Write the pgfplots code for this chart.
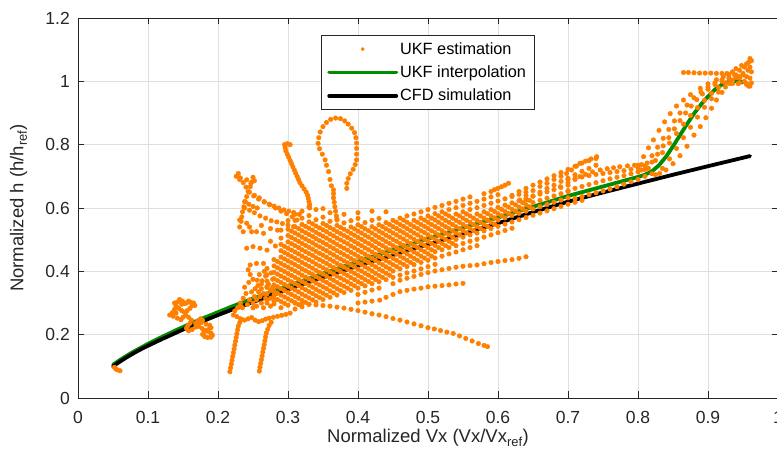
\documentclass[border=0pt]{standalone}
\usepackage{pgfplots}
\usepackage{pgfplotstable}
\pgfplotsset{compat=1.18}
\usepackage{fontspec}
\setmainfont{Liberation Sans}
\definecolor{ukforange}{RGB}{255,128,0}
\definecolor{ukfgreen}{RGB}{0,140,0}
\definecolor{gridgray}{RGB}{223,223,223}
\definecolor{axisgray}{RGB}{38,38,38}
\pgfplotsset{odot/.style={only marks, mark=*, mark size=2.3pt, color=ukforange, mark options={draw=none, fill=ukforange}}}

\pgfplotstableread[header=false]{
0.27 .309 .329 .349 .369 .389 .409 nan nan nan nan nan nan nan nan nan
0.28 .297 .317 .337 .357 .377 .397 .417 .437 nan nan nan nan nan nan nan
0.29 .285 .305 .325 .345 .365 .385 .405 .425 .445 .465 .485 .505 nan nan nan
0.30 .293 .313 .333 .353 .373 .393 .413 .433 .453 .473 .493 .513 .533 nan nan
0.31 .281 .301 .321 .341 .361 .381 .401 .421 .441 .461 .481 .501 .521 .541 .561
0.32 .288 .308 .328 .348 .368 .388 .408 .428 .448 .468 .488 .508 .528 .548 .568
0.33 .296 .316 .336 .356 .376 .396 .416 .436 .456 .476 .496 .516 .536 .556 .576
0.34 .303 .323 .343 .363 .383 .403 .423 .443 .463 .483 .503 .523 .543 .563 nan
0.35 .311 .331 .351 .371 .391 .411 .431 .451 .471 .491 .511 .531 .551 .571 nan
0.36 .318 .338 .358 .378 .398 .418 .438 .458 .478 .498 .518 .538 .558 nan nan
0.37 .325 .345 .365 .385 .405 .425 .445 .465 .485 .505 .525 .545 .565 nan nan
0.38 .333 .353 .373 .393 .413 .433 .453 .473 .493 .513 .533 .553 nan nan nan
0.39 .340 .360 .380 .400 .420 .440 .460 .480 .500 .520 .540 .560 nan nan nan
0.40 .327 .347 .367 .387 .407 .427 .447 .467 .487 .507 .527 .547 .567 nan nan
0.41 .334 .354 .374 .394 .414 .434 .454 .474 .494 .514 .534 .554 nan nan nan
0.42 .341 .361 .381 .401 .421 .441 .461 .481 .501 .521 .541 .561 nan nan nan
0.43 .347 .367 .387 .407 .427 .447 .467 .487 .507 .527 .547 .567 nan nan nan
0.44 .374 .394 .414 .434 .454 .474 .494 .514 .534 .554 nan nan nan nan nan
0.45 .361 .381 .401 .421 .441 .461 .481 .501 .521 .541 .561 nan nan nan nan
0.46 .388 .408 .428 .448 .468 .488 .508 .528 .548 .568 nan nan nan nan nan
0.47 .395 .415 .435 .455 .475 .495 .515 .535 .555 .575 nan nan nan nan nan
0.48 .401 .421 .441 .461 .481 .501 .521 .541 .561 .581 nan nan nan nan nan
0.49 .408 .428 .448 .468 .488 .508 .528 .548 .568 .588 nan nan nan nan nan
0.50 .415 .435 .455 .475 .495 .515 .535 .555 .575 .595 nan nan nan nan nan
0.51 .422 .442 .462 .482 .502 .522 .542 .562 .582 .602 nan nan nan nan nan
0.52 .448 .468 .488 .508 .528 .548 .568 .588 .608 nan nan nan nan nan nan
0.53 .455 .475 .495 .515 .535 .555 .575 .595 .615 nan nan nan nan nan nan
0.54 .461 .481 .501 .521 .541 .561 .581 .601 .621 nan nan nan nan nan nan
0.55 .468 .488 .508 .528 .548 .568 .588 .608 .628 nan nan nan nan nan nan
0.56 .475 .495 .515 .535 .555 .575 .595 .615 .635 nan nan nan nan nan nan
0.57 .481 .501 .521 .541 .561 .581 .601 .621 nan nan nan nan nan nan nan
0.58 .508 .528 .548 .568 .588 .608 .628 nan nan nan nan nan nan nan nan
0.59 .515 .535 .555 .575 .595 .615 .635 nan nan nan nan nan nan nan nan
0.60 .522 .542 .562 .582 .602 .622 .642 nan nan nan nan nan nan nan nan
0.61 .529 .549 .569 .589 .609 .629 nan nan nan nan nan nan nan nan nan
0.62 .536 .556 .576 .596 .616 .636 nan nan nan nan nan nan nan nan nan
0.63 .563 .583 .603 .623 .643 nan nan nan nan nan nan nan nan nan nan
0.64 .570 .590 .610 .630 .650 nan nan nan nan nan nan nan nan nan nan
0.65 .577 .597 .617 .637 nan nan nan nan nan nan nan nan nan nan nan
0.66 .584 .604 .624 .644 nan nan nan nan nan nan nan nan nan nan nan
0.67 .591 .611 .631 .651 nan nan nan nan nan nan nan nan nan nan nan
0.68 .618 .638 .658 nan nan nan nan nan nan nan nan nan nan nan nan
0.69 .625 .645 .665 nan nan nan nan nan nan nan nan nan nan nan nan
0.70 .632 .652 .672 nan nan nan nan nan nan nan nan nan nan nan nan
}\denseA

\pgfplotstableread[header=false]{
0.285 .311 .331 .351 .371 .391 .411 .431 nan nan nan nan nan nan
0.295 .299 .319 .339 .359 .379 .399 .419 .439 .459 .479 nan nan nan
0.305 .307 .327 .347 .367 .387 .407 .427 .447 .467 .487 .507 .527 nan
0.315 .295 .315 .335 .355 .375 .395 .415 .435 .455 .475 .495 .515 .535
0.325 .302 .322 .342 .362 .382 .402 .422 .442 .462 .482 .502 .522 .542
0.335 .310 .330 .350 .370 .390 .410 .430 .450 .470 .490 .510 .530 .550
0.345 .317 .337 .357 .377 .397 .417 .437 .457 .477 .497 .517 .537 nan
0.355 .325 .345 .365 .385 .405 .425 .445 .465 .485 .505 .525 .545 nan
0.365 .332 .352 .372 .392 .412 .432 .452 .472 .492 .512 .532 nan nan
0.375 .339 .359 .379 .399 .419 .439 .459 .479 .499 .519 .539 nan nan
0.385 .347 .367 .387 .407 .427 .447 .467 .487 .507 .527 nan nan nan
0.395 .354 .374 .394 .414 .434 .454 .474 .494 .514 .534 nan nan nan
0.405 .361 .381 .401 .421 .441 .461 .481 .501 .521 .541 nan nan nan
0.415 .368 .388 .408 .428 .448 .468 .488 .508 .528 nan nan nan nan
0.425 .374 .394 .414 .434 .454 .474 .494 .514 .534 nan nan nan nan
0.435 .381 .401 .421 .441 .461 .481 .501 .521 .541 nan nan nan nan
0.445 .388 .408 .428 .448 .468 .488 .508 .528 .548 nan nan nan nan
0.455 .415 .435 .455 .475 .495 .515 .535 .555 nan nan nan nan nan
0.465 .422 .442 .462 .482 .502 .522 .542 .562 nan nan nan nan nan
0.475 .428 .448 .468 .488 .508 .528 .548 nan nan nan nan nan nan
0.485 .435 .455 .475 .495 .515 .535 .555 nan nan nan nan nan nan
0.495 .442 .462 .482 .502 .522 .542 .562 nan nan nan nan nan nan
0.505 .448 .468 .488 .508 .528 .548 .568 nan nan nan nan nan nan
0.515 .475 .495 .515 .535 .555 .575 nan nan nan nan nan nan nan
0.525 .481 .501 .521 .541 .561 .581 nan nan nan nan nan nan nan
0.535 .488 .508 .528 .548 .568 nan nan nan nan nan nan nan nan
0.545 .515 .535 .555 .575 nan nan nan nan nan nan nan nan nan
0.555 .521 .541 .561 .581 nan nan nan nan nan nan nan nan nan
0.565 .528 .548 .568 nan nan nan nan nan nan nan nan nan nan
0.575 .535 .555 .575 nan nan nan nan nan nan nan nan nan nan
0.585 .542 .562 .582 nan nan nan nan nan nan nan nan nan nan
0.595 .549 .569 .589 nan nan nan nan nan nan nan nan nan nan
0.605 .576 .596 nan nan nan nan nan nan nan nan nan nan nan
0.615 .583 .603 nan nan nan nan nan nan nan nan nan nan nan
0.625 .590 .610 nan nan nan nan nan nan nan nan nan nan nan
0.635 .597 .617 nan nan nan nan nan nan nan nan nan nan nan
0.645 .604 .624 nan nan nan nan nan nan nan nan nan nan nan
}\denseB

\begin{document}
\begin{tikzpicture}
\begin{axis}[
  scale only axis, width=700pt, height=380pt,
  xmin=0, xmax=1, ymin=0, ymax=1.2,
  xtick={0,0.1,0.2,0.3,0.4,0.5,0.6,0.7,0.8,0.9,1},
  xticklabels={0,0.1,0.2,0.3,0.4,0.5,0.6,0.7,0.8,0.9,1},
  ytick={0,0.2,0.4,0.6,0.8,1,1.2},
  yticklabels={0,0.2,0.4,0.6,0.8,1,1.2},
  /pgf/number format/assume math mode=true,
  grid=major,
  major grid style={draw=gridgray, line width=0.8pt},
  axis line style={draw=axisgray, line width=0.8pt},
  tick style={draw=axisgray, line width=0.8pt},
  tick align=inside, major tick length=6.5pt,
  ticklabel style={font=\fontsize{17.5}{20}\selectfont, text=axisgray},
  xticklabel style={anchor=base, yshift=-25.5pt, inner sep=0pt},
  yticklabel style={anchor=east, xshift=-8pt, inner sep=0pt},
  xlabel={Normalized Vx (Vx/Vx\textsubscript{ref})},
  ylabel={Normalized h (h/h\textsubscript{ref})},
  label style={font=\fontsize{18.5}{21}\selectfont, text=axisgray},
  x label style={at={([yshift=-45pt]axis description cs:0.5,0)}, anchor=base, inner sep=0pt},
  y label style={at={([xshift=-54.5pt]axis description cs:0,0.5)}, rotate=0, anchor=base, inner sep=0pt},
  legend cell align=left,
  legend style={at={(axis description cs:0.347,0.955)}, anchor=north west,
    draw=axisgray, line width=0.8pt, fill=white,
    font=\fontsize{16.3}{19}\selectfont, text=black,
    inner xsep=6pt, inner ysep=5pt, row sep=6pt},
  legend image code/.code={\draw[mark repeat=2,mark phase=2,mark size=1.4pt,#1] plot coordinates {(0pt,0pt) (33.5pt,0pt) (67pt,0pt)};},
]
\addplot[odot] coordinates {
(0.052,0.097)(0.056,0.089)(0.060,0.086)(0.054,0.092)
(0.131,0.262)(0.135,0.270)(0.138,0.280)(0.140,0.291)(0.142,0.303)(0.145,0.311)(0.149,0.306)(0.152,0.298)(0.155,0.300)(0.158,0.306)(0.161,0.302)(0.163,0.292)(0.160,0.283)(0.156,0.276)(0.152,0.271)(0.148,0.276)(0.144,0.283)(0.140,0.268)(0.136,0.258)(0.142,0.252)(0.147,0.247)(0.150,0.255)(0.154,0.262)(0.158,0.255)(0.162,0.246)(0.160,0.236)(0.157,0.228)(0.155,0.220)(0.158,0.212)(0.163,0.216)(0.168,0.224)(0.172,0.232)(0.176,0.238)(0.178,0.245)(0.175,0.250)(0.171,0.242)(0.168,0.236)(0.172,0.226)(0.177,0.220)(0.181,0.214)(0.186,0.210)(0.190,0.205)(0.192,0.198)(0.190,0.192)(0.185,0.191)(0.181,0.194)(0.178,0.201)(0.180,0.208)(0.186,0.216)(0.190,0.222)(0.188,0.230)(0.183,0.233)(0.165,0.300)(0.167,0.292)(0.148,0.296)(0.138,0.300)
(0.217,0.083)(0.218,0.095)(0.219,0.107)(0.220,0.119)(0.221,0.131)(0.222,0.143)(0.223,0.155)(0.224,0.167)(0.225,0.179)(0.226,0.191)(0.227,0.203)(0.228,0.215)(0.229,0.227)(0.231,0.238)(0.234,0.248)
(0.259,0.085)(0.260,0.097)(0.261,0.109)(0.262,0.121)(0.263,0.133)(0.264,0.145)(0.265,0.157)(0.266,0.169)(0.267,0.181)(0.268,0.193)(0.269,0.205)(0.271,0.217)(0.273,0.229)(0.276,0.239)
(0.222,0.262)(0.227,0.257)(0.232,0.250)(0.238,0.246)(0.243,0.250)(0.248,0.254)(0.253,0.246)(0.258,0.241)(0.263,0.244)(0.268,0.249)(0.273,0.252)(0.279,0.255)(0.285,0.258)(0.291,0.261)(0.297,0.264)(0.303,0.268)(0.224,0.275)(0.228,0.285)(0.232,0.292)
(0.250,0.300)(0.255,0.310)(0.260,0.320)(0.258,0.335)(0.262,0.345)(0.265,0.330)(0.268,0.315)(0.270,0.300)(0.262,0.300)(0.255,0.290)(0.252,0.320)(0.257,0.355)(0.263,0.370)(0.268,0.385)(0.272,0.360)(0.275,0.340)(0.275,0.315)(0.248,0.335)(0.253,0.345)(0.245,0.310)(0.242,0.295)(0.250,0.285)(0.265,0.285)(0.275,0.290)(0.280,0.305)(0.280,0.325)(0.278,0.350)(0.278,0.375)(0.276,0.395)(0.266,0.400)(0.259,0.390)(0.232,0.300)(0.236,0.315)(0.240,0.330)(0.238,0.350)(0.244,0.365)(0.235,0.285)(0.243,0.405)(0.246,0.390)(0.250,0.375)(0.256,0.372)(0.270,0.352)(0.262,0.360)
(0.229,0.709)(0.232,0.695)(0.236,0.680)(0.240,0.666)(0.245,0.650)(0.251,0.638)(0.258,0.628)(0.266,0.619)(0.274,0.610)(0.282,0.600)(0.290,0.590)(0.298,0.582)(0.306,0.572)(0.313,0.562)
(0.250,0.697)(0.248,0.682)(0.246,0.667)(0.243,0.652)(0.241,0.636)(0.239,0.620)(0.237,0.604)(0.235,0.588)(0.234,0.572)(0.233,0.558)
(0.238,0.600)(0.245,0.593)(0.252,0.585)(0.260,0.575)(0.268,0.568)(0.276,0.560)(0.284,0.556)(0.292,0.551)(0.300,0.546)(0.308,0.541)
(0.252,0.640)(0.259,0.632)(0.266,0.620)(0.273,0.612)(0.280,0.606)(0.287,0.600)(0.294,0.594)(0.301,0.590)(0.308,0.586)(0.316,0.580)
(0.238,0.620)(0.244,0.612)(0.250,0.605)(0.256,0.600)
(0.226,0.700)(0.231,0.690)(0.241,0.689)(0.247,0.678)(0.252,0.686)
(0.231,0.562)(0.241,0.552)(0.236,0.525)(0.248,0.525)(0.255,0.525)(0.265,0.520)(0.241,0.473)(0.250,0.478)(0.260,0.473)(0.270,0.467)(0.246,0.420)(0.255,0.425)(0.265,0.425)(0.231,0.540)(0.245,0.540)(0.262,0.545)(0.275,0.535)(0.285,0.530)(0.275,0.495)(0.282,0.480)
(0.295,0.800)(0.299,0.803)(0.303,0.800)(0.296,0.790)(0.297,0.780)(0.299,0.770)(0.301,0.760)(0.303,0.750)(0.305,0.740)(0.307,0.730)(0.309,0.720)(0.311,0.710)(0.313,0.700)(0.315,0.690)(0.317,0.680)(0.320,0.670)(0.323,0.660)(0.326,0.650)(0.328,0.640)(0.329,0.630)(0.330,0.620)(0.331,0.610)(0.331,0.600)
(0.370,0.562)(0.369,0.575)(0.368,0.590)(0.367,0.604)(0.366,0.618)(0.365,0.632)(0.365,0.645)(0.365,0.657)(0.362,0.670)(0.360,0.690)(0.358,0.715)(0.355,0.735)(0.353,0.752)(0.349,0.770)(0.345,0.787)(0.343,0.804)(0.344,0.822)(0.346,0.840)(0.350,0.857)(0.355,0.870)(0.361,0.880)(0.368,0.884)(0.375,0.882)(0.381,0.875)(0.386,0.865)(0.391,0.852)(0.395,0.838)(0.397,0.822)(0.398,0.805)(0.398,0.788)(0.398,0.770)(0.398,0.752)(0.396,0.737)(0.393,0.722)(0.389,0.708)(0.386,0.693)(0.384,0.678)(0.384,0.662)
(0.31,0.300)(0.32,0.298)(0.33,0.296)(0.34,0.294)(0.35,0.292)(0.36,0.290)(0.37,0.287)(0.38,0.284)(0.39,0.280)(0.40,0.276)(0.41,0.271)(0.42,0.266)(0.43,0.262)(0.44,0.257)(0.45,0.251)(0.46,0.246)(0.47,0.240)(0.48,0.234)(0.49,0.228)(0.50,0.222)(0.509,0.218)(0.518,0.213)(0.527,0.208)(0.536,0.204)(0.545,0.196)(0.554,0.188)(0.563,0.180)(0.572,0.172)(0.580,0.166)(0.585,0.162)
(0.40,0.300)(0.41,0.303)(0.42,0.306)(0.431,0.309)(0.44,0.318)(0.45,0.327)(0.46,0.336)(0.47,0.340)(0.48,0.344)(0.49,0.347)(0.50,0.351)(0.51,0.353)(0.52,0.355)(0.53,0.357)(0.54,0.360)(0.55,0.362)
(0.46,0.372)(0.47,0.378)(0.48,0.384)(0.49,0.390)(0.50,0.396)(0.51,0.401)(0.52,0.405)(0.53,0.409)(0.54,0.413)(0.55,0.416)(0.56,0.418)(0.57,0.420)(0.58,0.424)(0.59,0.428)(0.60,0.431)(0.61,0.434)(0.62,0.437)(0.63,0.441)(0.64,0.446)
(0.32,0.590)(0.34,0.595)(0.36,0.585)(0.38,0.580)(0.40,0.585)(0.42,0.590)(0.44,0.588)(0.33,0.603)(0.35,0.598)(0.31,0.580)(0.30,0.560)(0.29,0.530)
(0.58,0.645)(0.59,0.652)(0.595,0.658)(0.60,0.662)(0.605,0.667)(0.61,0.672)(0.615,0.678)
(0.631,0.625)(0.64,0.640)(0.65,0.655)(0.66,0.668)(0.67,0.678)(0.68,0.690)(0.69,0.700)(0.698,0.709)(0.705,0.720)(0.712,0.732)(0.717,0.741)(0.725,0.748)(0.733,0.755)(0.741,0.762)
(0.64,0.625)(0.65,0.638)(0.66,0.650)(0.67,0.662)(0.68,0.672)(0.69,0.684)(0.70,0.694)(0.71,0.705)(0.72,0.716)(0.73,0.725)(0.74,0.735)
(0.62,0.640)(0.63,0.652)(0.64,0.662)(0.65,0.672)(0.66,0.682)(0.67,0.692)(0.68,0.702)(0.69,0.712)(0.70,0.722)(0.71,0.732)(0.72,0.742)(0.73,0.750)(0.74,0.756)
(0.689,0.667)(0.70,0.680)(0.71,0.690)(0.717,0.699)(0.725,0.706)(0.735,0.714)(0.746,0.720)(0.756,0.724)(0.765,0.727)(0.774,0.730)(0.785,0.733)(0.795,0.735)(0.805,0.737)
(0.70,0.655)(0.71,0.662)(0.72,0.668)(0.73,0.674)(0.74,0.680)(0.75,0.686)(0.76,0.692)(0.77,0.697)(0.78,0.702)(0.79,0.708)(0.80,0.714)(0.81,0.722)
(0.71,0.630)(0.72,0.636)(0.73,0.642)(0.74,0.648)(0.75,0.654)(0.76,0.660)(0.77,0.667)(0.78,0.675)(0.79,0.683)(0.80,0.690)(0.81,0.700)(0.82,0.708)
(0.70,0.690)(0.71,0.694)(0.72,0.698)(0.73,0.702)(0.74,0.706)(0.75,0.709)(0.76,0.712)(0.77,0.715)(0.78,0.718)(0.79,0.722)(0.80,0.727)(0.81,0.733)
(0.68,0.598)(0.69,0.605)(0.70,0.612)(0.71,0.618)(0.72,0.624)
(0.800,0.735)(0.808,0.762)(0.815,0.790)(0.822,0.815)(0.830,0.845)(0.838,0.872)(0.846,0.898)(0.855,0.922)(0.865,0.941)(0.875,0.958)(0.889,0.978)(0.900,0.992)(0.912,1.005)(0.922,1.015)(0.930,1.022)
(0.805,0.720)(0.813,0.742)(0.820,0.765)(0.828,0.792)(0.836,0.820)(0.844,0.848)(0.852,0.875)(0.860,0.900)(0.870,0.925)(0.880,0.948)(0.890,0.966)(0.900,0.982)(0.910,0.995)(0.920,1.005)(0.930,1.012)(0.940,1.020)
(0.812,0.725)(0.820,0.745)(0.828,0.770)(0.836,0.796)(0.844,0.822)(0.852,0.850)(0.860,0.876)(0.868,0.900)(0.876,0.922)(0.884,0.942)(0.892,0.960)(0.900,0.975)(0.910,0.990)(0.920,1.000)(0.930,1.008)(0.940,1.012)(0.950,1.020)
(0.825,0.705)(0.835,0.725)(0.845,0.755)(0.855,0.788)(0.865,0.822)(0.875,0.855)(0.885,0.887)(0.895,0.918)(0.905,0.945)(0.915,0.966)(0.925,0.982)(0.935,0.993)(0.945,0.995)(0.955,0.993)
(0.831,0.709)(0.840,0.720)(0.850,0.740)(0.860,0.765)(0.870,0.795)(0.880,0.830)(0.889,0.857)(0.897,0.885)(0.905,0.915)(0.912,0.941)(0.920,0.965)(0.931,0.993)(0.943,0.993)(0.955,0.990)(0.960,0.985)
(0.815,0.725)(0.825,0.750)(0.835,0.775)(0.845,0.805)(0.855,0.835)(0.865,0.865)(0.875,0.892)(0.885,0.917)(0.895,0.940)(0.905,0.962)(0.915,0.980)(0.925,0.995)(0.935,1.003)(0.945,1.010)(0.955,1.015)
(0.865,1.028)(0.872,1.028)(0.880,1.027)(0.888,1.026)(0.896,1.026)(0.904,1.026)(0.912,1.025)(0.920,1.025)(0.927,1.025)
(0.935,1.030)(0.940,1.040)(0.945,1.035)(0.948,1.050)(0.952,1.045)(0.955,1.055)(0.958,1.060)(0.960,1.072)(0.962,1.065)(0.950,1.025)(0.957,1.035)(0.960,1.045)(0.962,1.030)(0.960,1.010)(0.962,0.995)(0.958,0.985)(0.952,1.000)(0.945,1.015)(0.938,1.020)
};
\addlegendentry{UKF estimation}
\pgfplotsinvokeforeach{1,...,15}{\addplot[odot, forget plot] table[x index=0, y index=#1] \denseA;}
\pgfplotsinvokeforeach{1,...,13}{\addplot[odot, forget plot] table[x index=0, y index=#1] \denseB;}
\addplot[color=ukfgreen, line width=3.8pt, line join=round, line cap=round] coordinates {
(0.05,0.105)(0.06,0.120)(0.07,0.134)(0.08,0.147)(0.09,0.159)(0.10,0.171)(0.12,0.193)(0.14,0.214)(0.16,0.234)(0.18,0.253)(0.20,0.271)(0.22,0.289)(0.25,0.314)(0.30,0.354)(0.35,0.393)(0.40,0.431)(0.45,0.467)(0.50,0.503)(0.55,0.537)(0.60,0.570)(0.65,0.604)(0.70,0.638)(0.75,0.668)(0.78,0.686)(0.80,0.698)(0.81,0.705)(0.82,0.716)(0.83,0.735)(0.84,0.762)(0.85,0.795)(0.86,0.830)(0.87,0.865)(0.88,0.898)(0.89,0.927)(0.90,0.952)(0.91,0.974)(0.92,0.990)(0.93,0.999)(0.94,1.001)(0.95,0.997)
};
\addlegendentry{UKF interpolation}
\addplot[color=black, line width=3.8pt, line join=round, line cap=round] coordinates {
(0.05,0.100)(0.06,0.115)(0.07,0.129)(0.08,0.142)(0.09,0.154)(0.10,0.165)(0.12,0.186)(0.14,0.206)(0.16,0.226)(0.18,0.244)(0.20,0.262)(0.22,0.279)(0.25,0.303)(0.30,0.343)(0.35,0.381)(0.40,0.417)(0.45,0.451)(0.50,0.485)(0.55,0.518)(0.60,0.552)(0.65,0.587)(0.70,0.620)(0.75,0.649)(0.80,0.677)(0.85,0.705)(0.90,0.732)(0.96,0.764)
};
\addlegendentry{CFD simulation}
\coordinate (ll) at (rel axis cs:0,0);
\coordinate (ur) at (rel axis cs:1,1);
\end{axis}
\pgfresetboundingbox
\path[use as bounding box] ([xshift=-78pt,yshift=-61pt]ll) rectangle ([xshift=-1pt,yshift=18pt]ur);
\end{tikzpicture}
\end{document}
